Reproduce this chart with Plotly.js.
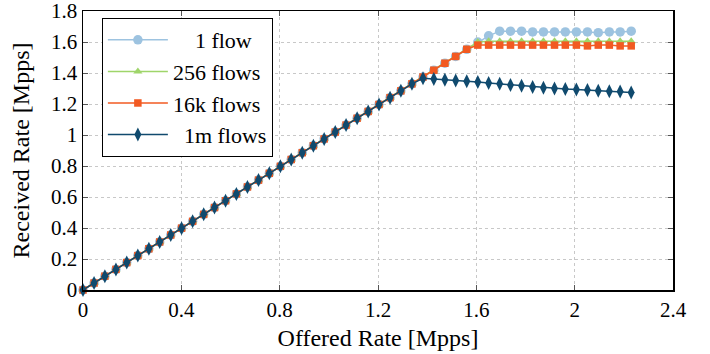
<!DOCTYPE html>
<html>
<head>
<meta charset="utf-8">
<script src="https://cdn.plot.ly/plotly-3.0.1.min.js"></script>
<style>html,body{margin:0;padding:0;background:#fff;}#chart{width:710px;height:354px;}</style>
</head>
<body>
<div id="chart"></div>
<script>
// Offered rate (Mpps)
const offered = [0, 0.045, 0.089, 0.134, 0.178, 0.223, 0.268, 0.312, 0.357, 0.401,
  0.446, 0.491, 0.535, 0.58, 0.624, 0.669, 0.714, 0.758, 0.803, 0.847,
  0.892, 0.937, 0.981, 1.026, 1.07, 1.115, 1.16, 1.204, 1.249, 1.293,
  1.338, 1.383, 1.427, 1.472, 1.516, 1.561, 1.606, 1.65, 1.695, 1.739,
  1.784, 1.829, 1.873, 1.918, 1.962, 2.007, 2.052, 2.096, 2.141, 2.185, 2.23];

const rate1flow = [0, 0.045, 0.089, 0.133, 0.177, 0.222, 0.266, 0.31, 0.355, 0.399,
  0.443, 0.488, 0.532, 0.576, 0.62, 0.665, 0.709, 0.753, 0.798, 0.842,
  0.886, 0.931, 0.975, 1.019, 1.064, 1.108, 1.152, 1.197, 1.241, 1.285,
  1.33, 1.374, 1.418, 1.463, 1.507, 1.553, 1.6, 1.64, 1.67, 1.67,
  1.67, 1.665, 1.665, 1.665, 1.665, 1.665, 1.665, 1.66, 1.665, 1.665, 1.67];

const rate256 = [0, 0.045, 0.089, 0.133, 0.177, 0.222, 0.266, 0.31, 0.355, 0.399,
  0.443, 0.488, 0.532, 0.576, 0.62, 0.665, 0.709, 0.753, 0.798, 0.842,
  0.886, 0.931, 0.975, 1.019, 1.064, 1.108, 1.152, 1.197, 1.241, 1.285,
  1.33, 1.374, 1.418, 1.463, 1.507, 1.553, 1.6, 1.605, 1.605, 1.605,
  1.605, 1.605, 1.605, 1.605, 1.605, 1.605, 1.605, 1.605, 1.605, 1.605, 1.605];

const rate16k = [0, 0.045, 0.089, 0.133, 0.177, 0.222, 0.266, 0.31, 0.355, 0.399,
  0.443, 0.488, 0.532, 0.576, 0.62, 0.665, 0.709, 0.753, 0.798, 0.842,
  0.886, 0.931, 0.975, 1.019, 1.064, 1.108, 1.152, 1.197, 1.241, 1.285,
  1.33, 1.374, 1.418, 1.463, 1.507, 1.553, 1.58, 1.58, 1.58, 1.58,
  1.58, 1.58, 1.58, 1.58, 1.58, 1.58, 1.575, 1.58, 1.58, 1.575, 1.575];

const rate1m = [0, 0.045, 0.089, 0.133, 0.177, 0.222, 0.266, 0.31, 0.355, 0.399,
  0.443, 0.488, 0.532, 0.576, 0.62, 0.665, 0.709, 0.753, 0.798, 0.842,
  0.886, 0.931, 0.975, 1.019, 1.064, 1.108, 1.152, 1.197, 1.241, 1.285,
  1.33, 1.366, 1.362, 1.356, 1.351, 1.347, 1.342, 1.336, 1.33, 1.323,
  1.317, 1.31, 1.305, 1.3, 1.296, 1.294, 1.29, 1.286, 1.283, 1.28, 1.275];

const seriesNames = ['\u00a0\u00a0\u00a0\u00a01 flow', '256 flows', '16k flows', '\u00a0\u00a01m flows'];
const xTicks = [0, 0.4, 0.8, 1.2, 1.6, 2, 2.4];
const xTickText = ['0', '0.4', '0.8', '1.2', '1.6', '2', '2.4'];
const yTicks = [0, 0.2, 0.4, 0.6, 0.8, 1, 1.2, 1.4, 1.6, 1.8];
const yTickText = ['0', '0.2', '0.4', '0.6', '0.8', '1', '1.2', '1.4', '1.6', '1.8'];

const colors = ['#9dc3e0', '#9fd56a', '#f25a22', '#104a6e'];
const symbols = ['circle', 'triangle-up', 'square', 'diamond-tall'];
const sizes = [9.5, 8, 7.5, 10];
const ys = [rate1flow, rate256, rate16k, rate1m];

const font = 'Liberation Serif, Times New Roman, serif';

const traces = ys.map((y, i) => ({
  x: offered, y: y, type: 'scatter', mode: 'lines+markers',
  name: seriesNames[i], cliponaxis: false,
  line: {color: colors[i], width: 1.5},
  marker: {color: colors[i], symbol: symbols[i], size: sizes[i]}
}));

const layout = {
  width: 710, height: 354,
  margin: {l: 83, r: 37, t: 11, b: 64},
  paper_bgcolor: '#fff', plot_bgcolor: '#fff',
  font: {family: font, size: 21, color: '#000'},
  showlegend: true,
  legend: {
    x: 0.032, y: 0.975, xanchor: 'left', yanchor: 'top',
    bordercolor: '#000', borderwidth: 1, bgcolor: '#fff',
    font: {family: font, size: 22, color: '#000'},
    itemwidth: 60
  },
  xaxis: {
    range: [0, 2.4], tickvals: xTicks, ticktext: xTickText,
    ticks: 'inside', ticklen: 5, tickcolor: '#555', mirror: 'ticks',
    showline: true, linecolor: '#000', linewidth: 1.5,
    showgrid: true, gridcolor: '#c8c8c8', griddash: 'dot', gridwidth: 1,
    zeroline: false, tickfont: {family: font, size: 21}, ticklabeloverflow: 'allow',
    title: {text: 'Offered Rate [Mpps]', font: {family: font, size: 24}, standoff: 8}
  },
  yaxis: {
    range: [0, 1.8], tickvals: yTicks, ticktext: yTickText,
    ticks: 'inside', ticklen: 5, tickcolor: '#555', mirror: 'ticks',
    showline: true, linecolor: '#000', linewidth: 1.5,
    showgrid: true, gridcolor: '#c8c8c8', griddash: 'dot', gridwidth: 1,
    zeroline: false, tickfont: {family: font, size: 21}, ticklabeloverflow: 'allow',
    title: {text: 'Received Rate [Mpps]', font: {family: font, size: 24}, standoff: 14}
  }
};

Plotly.newPlot('chart', traces, layout, {displayModeBar: false, staticPlot: true});
</script>
</body>
</html>
